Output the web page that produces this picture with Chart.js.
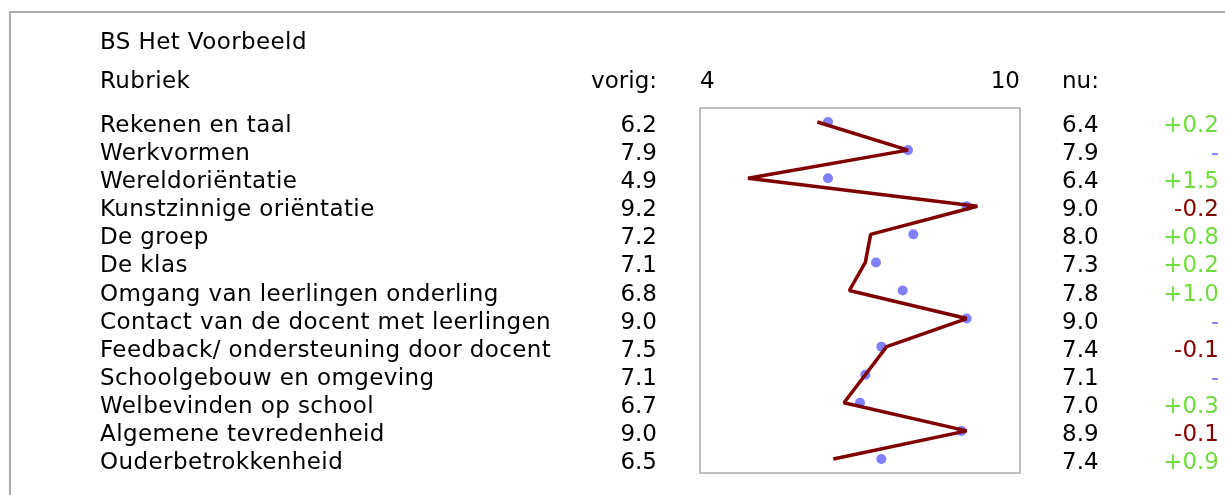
<!DOCTYPE html>
<html>
<head>
<meta charset="utf-8">
<script src="https://cdn.jsdelivr.net/npm/chart.js@4"></script>
<style>
  html, body { margin: 0; padding: 0; background: #fff; }
  #wrap { width: 1225px; height: 495px; position: relative; }
</style>
</head>
<body>
<div id="wrap"><canvas id="chart"></canvas></div>
<script>
const title = "BS Het Voorbeeld";
const rubrieken = [
  "Rekenen en taal",
  "Werkvormen",
  "Wereldoriëntatie",
  "Kunstzinnige oriëntatie",
  "De groep",
  "De klas",
  "Omgang van leerlingen onderling",
  "Contact van de docent met leerlingen",
  "Feedback/ ondersteuning door docent",
  "Schoolgebouw en omgeving",
  "Welbevinden op school",
  "Algemene tevredenheid",
  "Ouderbetrokkenheid"
];
const vorig = [6.2, 7.9, 4.9, 9.2, 7.2, 7.1, 6.8, 9.0, 7.5, 7.1, 6.7, 9.0, 6.5];
const nu = [6.4, 7.9, 6.4, 9.0, 8.0, 7.3, 7.8, 9.0, 7.4, 7.1, 7.0, 8.9, 7.4];
const xTicks = [4, 10];

const FONT = '23px "DejaVu Sans", Verdana, sans-serif';
const GREEN = "rgb(110,221,60)";
const RED = "#800000";
const BLUE = "#8080ff";

const diffText = (i) => {
  const d = Math.round((nu[i] - vorig[i]) * 10) / 10;
  if (d === 0) return { t: "-", c: BLUE };
  return d > 0 ? { t: "+" + d.toFixed(1), c: GREEN } : { t: d.toFixed(1), c: RED };
};

const tablePlugin = {
  id: "table",
  afterDraw(chart) {
    const ctx = chart.ctx;
    const a = chart.chartArea;
    const x = chart.scales.x;
    const y = chart.scales.y;
    ctx.save();

    // outer frame
    ctx.strokeStyle = "#aaa";
    ctx.lineWidth = 2;
    ctx.beginPath();
    ctx.moveTo(10, 495);
    ctx.lineTo(10, 12);
    ctx.lineTo(1225, 12);
    ctx.stroke();

    // plot box
    ctx.lineWidth = 1.5;
    ctx.strokeRect(a.left, a.top, a.right - a.left, a.bottom - a.top);

    ctx.font = FONT;
    ctx.textBaseline = "alphabetic";
    ctx.fillStyle = "#000";
    ctx.textAlign = "left";
    ctx.letterSpacing = "0.4px";
    ctx.fillText(title, 100, 49);
    ctx.fillText("Rubriek", 100, 88);
    ctx.letterSpacing = "0px";
    ctx.fillText("nu:", 1062, 88);
    ctx.textAlign = "right";
    ctx.fillText("vorig:", 657, 88);

    // axis tick labels
    xTicks.forEach((v, k) => {
      ctx.textAlign = k === 0 ? "left" : "right";
      ctx.fillText(String(v), x.getPixelForValue(v), 88);
    });

    rubrieken.forEach((r, i) => {
      const py = y.getPixelForValue(i) + 10;
      ctx.fillStyle = "#000";
      ctx.textAlign = "left";
      ctx.letterSpacing = "0.4px";
      ctx.fillText(r, 100, py);
      ctx.letterSpacing = "0px";
      ctx.fillText(nu[i].toFixed(1), 1062, py);
      ctx.textAlign = "right";
      ctx.fillText(vorig[i].toFixed(1), 657, py);
      const d = diffText(i);
      ctx.fillStyle = d.c;
      ctx.fillText(d.t, 1219, py);
    });
    ctx.restore();
  }
};

new Chart(document.getElementById("chart"), {
  type: "line",
  data: {
    labels: rubrieken,
    datasets: [
      {
        label: "nu",
        data: nu.map((v, i) => ({ x: v, y: rubrieken[i] })),
        showLine: false,
        pointRadius: 5,
        pointBackgroundColor: BLUE,
        pointBorderWidth: 0,
        order: 2
      },
      {
        label: "vorig",
        data: vorig.map((v, i) => ({ x: v, y: rubrieken[i] })),
        borderColor: RED,
        borderWidth: 3.5,
        borderJoinStyle: "bevel",
        tension: 0,
        pointRadius: 0,
        order: 1
      }
    ]
  },
  options: {
    responsive: true,
    maintainAspectRatio: false,
    animation: false,
    layout: { padding: { left: 700, right: 205, top: 108, bottom: 22 } },
    plugins: { legend: { display: false }, tooltip: { enabled: false } },
    scales: {
      x: { type: "linear", min: 4, max: 10, display: false },
      y: { type: "category", labels: rubrieken, offset: true, display: false }
    }
  },
  plugins: [tablePlugin]
});
</script>
</body>
</html>
